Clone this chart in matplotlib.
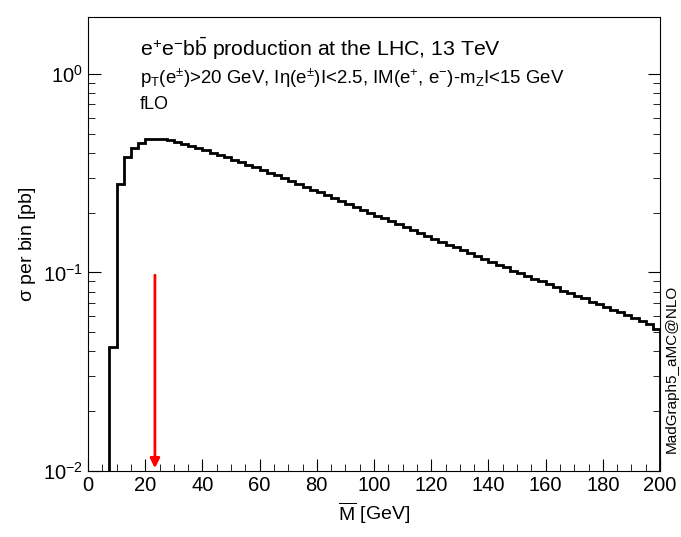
import numpy as np
import matplotlib
matplotlib.use("Agg")
import matplotlib.pyplot as plt
from matplotlib.ticker import MultipleLocator, LogLocator, NullFormatter

plt.rcParams['font.family'] = ['Liberation Sans', 'DejaVu Sans']
plt.rcParams['mathtext.fontset'] = 'custom'
plt.rcParams['mathtext.rm'] = 'Liberation Sans'
plt.rcParams['mathtext.it'] = 'Liberation Sans:italic'

bin_edges = np.arange(0, 200.1, 2.5)
sigma = [0.001, 0.001, 0.001, 0.042, 0.278, 0.38, 0.425, 0.45, 0.468, 0.47,
         0.468, 0.463, 0.455, 0.445, 0.434, 0.423, 0.412, 0.401, 0.390, 0.379,
         0.368, 0.358, 0.348, 0.338, 0.328, 0.318, 0.308, 0.298, 0.288, 0.279,
         0.270, 0.261, 0.253, 0.245, 0.237, 0.229, 0.221, 0.214, 0.207, 0.200,
         0.193, 0.187, 0.181, 0.175, 0.169, 0.163, 0.158, 0.153, 0.148, 0.143,
         0.138, 0.134, 0.129, 0.125, 0.121, 0.117, 0.113, 0.109, 0.106, 0.102,
         0.099, 0.096, 0.093, 0.090, 0.087, 0.084, 0.081, 0.079, 0.076, 0.074,
         0.071, 0.069, 0.067, 0.065, 0.063, 0.061, 0.059, 0.057, 0.055, 0.052]
arrow_x = 23.4

fig = plt.figure(figsize=(6.81, 5.37), dpi=100)
ax = fig.add_axes([88/681, 1-471/537, (660-88)/681, (471-17)/537])
ax.stairs(sigma, bin_edges, color='black', lw=2)
ax.set_yscale('log')
ax.set_xlim(0, 200)
ax.set_ylim(0.01, 1.93)

ax.annotate('', xy=(arrow_x, 0.01), xytext=(arrow_x, 0.1),
            arrowprops=dict(arrowstyle='-|>', color='red', lw=2, mutation_scale=14))

ax.xaxis.set_major_locator(MultipleLocator(20))
ax.xaxis.set_minor_locator(MultipleLocator(5))
ax.yaxis.set_minor_locator(LogLocator(10, subs=np.arange(2, 10)))
ax.yaxis.set_minor_formatter(NullFormatter())
ax.set_yticks([0.01, 0.1, 1])
ax.set_yticklabels(['10$^{-2}$', '10$^{-1}$', '10$^{0}$'])
ax.tick_params(which='both', direction='in', top=False, right=True, labelsize=14.5)
ax.tick_params(which='major', length=9)
ax.tick_params(which='minor', length=5)

ax.set_xlabel(r'$\overline{\mathrm{M}}$ [GeV]', fontsize=14)
ax.set_ylabel(r'$\mathrm{\sigma}$ per bin [pb]', fontsize=14)

ax.text(0.091, 0.96, r'e$^{+}$e$^{\mathrm{-}}$b$\bar{\mathrm{b}}$ production at the LHC, 13 TeV',
        transform=ax.transAxes, fontsize=15.3, va='top')
ax.text(0.091, 0.89, r'p$_{\mathrm{T}}$(e$^{\pm}$)>20 GeV, I$\mathrm{\eta}$(e$^{\pm}$)I<2.5, IM(e$^{+}$, e$^{\mathrm{-}}$)-m$_{\mathrm{Z}}$I<15 GeV',
        transform=ax.transAxes, fontsize=13.4, va='top')
ax.text(0.091, 0.825, 'fLO', transform=ax.transAxes, fontsize=13, va='top')
fig.text(665/681, 1-453/537, 'MadGraph5_aMC@NLO', rotation=90, fontsize=11,
         ha='left', va='bottom')

fig.savefig('out.png', dpi=100)
